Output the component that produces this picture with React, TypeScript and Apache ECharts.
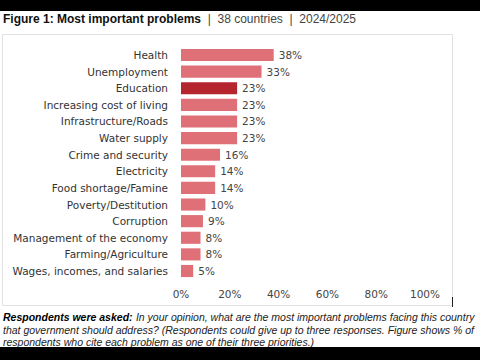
import React, { useEffect, useRef } from "react";
import * as echarts from "echarts";

const categories = [
  "Health",
  "Unemployment",
  "Education",
  "Increasing cost of living",
  "Infrastructure/Roads",
  "Water supply",
  "Crime and security",
  "Electricity",
  "Food shortage/Famine",
  "Poverty/Destitution",
  "Corruption",
  "Management of the economy",
  "Farming/Agriculture",
  "Wages, incomes, and salaries",
];
const values = [38, 33, 23, 23, 23, 23, 16, 14, 14, 10, 9, 8, 8, 5];
const highlighted = "Education";
const xTicks = [0, 20, 40, 60, 80, 100];

const FONT = "DejaVu Sans";
const FONT2 = "Liberation Sans";

export default function App() {
  const ref = useRef<HTMLDivElement>(null);
  useEffect(() => {
    if (!ref.current) return;
    const chart = echarts.init(ref.current, null, { renderer: "svg" });
    chart.setOption({
      animation: false,
      backgroundColor: "#ffffff",
      textStyle: { fontFamily: FONT },
      graphic: [
        { type: "rect", shape: { x: 0, y: 0, width: 480, height: 11 }, style: { fill: "#000" }, z: 10 },
        { type: "rect", shape: { x: 0, y: 347, width: 480, height: 13 }, style: { fill: "#000" }, z: 10 },
        {
          type: "rect",
          shape: { x: 2.5, y: 34.5, width: 450, height: 271 },
          style: { fill: "none", stroke: "#e2e2e2", lineWidth: 1 },
          z: -1,
        },
        { type: "line", shape: { x1: 452.5, y1: 297, x2: 452.5, y2: 307 }, style: { stroke: "#222", lineWidth: 1 } },
        {
          type: "text",
          x: 3,
          y: 19,
          style: {
            text: "{b|Figure 1: Most important problems}{n|  |  38 countries  |  2024/2025}",
            verticalAlign: "middle",
            rich: {
              b: { fontFamily: FONT2, fontWeight: "bold", fontSize: 12, fill: "#111" },
              n: { fontFamily: FONT2, fontSize: 12, fill: "#444" },
            },
          },
        },
        {
          type: "text",
          x: 3,
          y: 311,
          style: {
            text:
              "{b|Respondents were asked:} {i|In your opinion, what are the most important problems facing this country}\n{i|that government should address? (Respondents could give up to three responses. Figure shows % of}\n{i|respondents who cite each problem as one of their three priorities.)}",
            lineHeight: 12.5,
            rich: {
              b: { fontFamily: FONT2, fontWeight: "bold", fontStyle: "italic", fontSize: 10.5, fill: "#000", lineHeight: 12.5 },
              i: { fontFamily: FONT2, fontStyle: "italic", fontSize: 10.5, fill: "#222", lineHeight: 12.5 },
            },
          },
        },
      ],
      grid: { left: 181, right: 55, top: 46.7, bottom: 80.7, containLabel: false },
      xAxis: {
        type: "value",
        min: 0,
        max: 100,
        interval: 20,
        axisLine: { show: false },
        axisTick: { show: false },
        splitLine: { show: false },
        axisLabel: {
          formatter: (v: number) => (xTicks.includes(v) ? v + "%" : ""),
          color: "#444",
          fontSize: 10.5,
          fontFamily: FONT,
          margin: 9,
        },
      },
      yAxis: {
        type: "category",
        data: categories,
        inverse: true,
        axisLine: { show: false },
        axisTick: { show: false },
        axisLabel: { color: "#333", fontSize: 10.5, fontFamily: FONT, margin: 13 },
      },
      series: [
        {
          type: "bar",
          data: values.map((v, i) => ({
            value: v,
            itemStyle: { color: categories[i] === highlighted ? "#B5252E" : "#E07078" },
          })),
          barCategoryGap: "27%",
          label: {
            show: true,
            position: "right",
            distance: 5,
            formatter: "{c}%",
            color: "#444",
            fontSize: 10.5,
            fontFamily: FONT,
          },
        },
      ],
    });
    return () => chart.dispose();
  }, []);
  return (
    <div
      ref={ref}
      style={{ position: "fixed", left: 0, top: 0, width: 480, height: 360 }}
    />
  );
}
